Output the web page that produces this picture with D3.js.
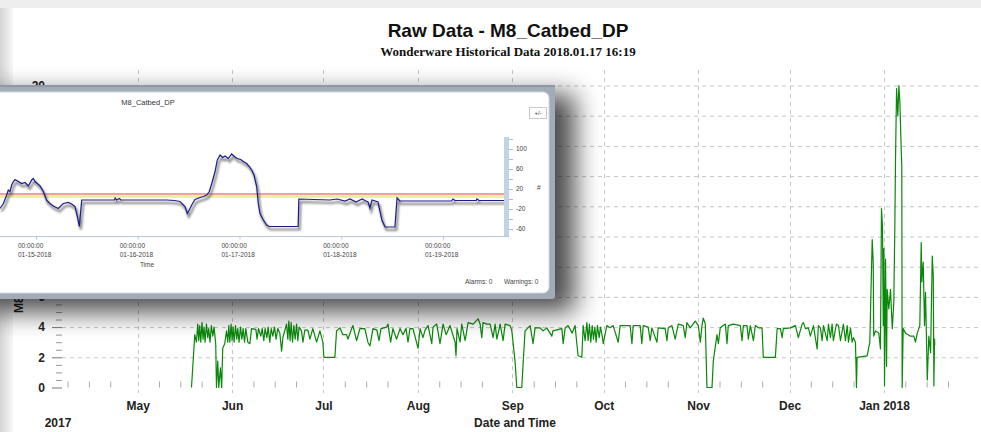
<!DOCTYPE html>
<html>
<head>
<meta charset="utf-8">
<script src="https://cdn.jsdelivr.net/npm/d3@7"></script>
<style>
body{margin:0;background:#fff;}
svg{display:block;font-family:Arial,"Liberation Sans",sans-serif;}
</style>
</head>
<body>
<div id="plot"></div>
<script>
// Raw Data - M8_Catbed_DP  (historian trend, with the live trend window on top)

var W = 981, H = 432;

var chartTitle = 'Raw Data - M8_Catbed_DP';
var chartSub = 'Wonderware Historical Data 2018.01.17 16:19';
var yLabel = 'M8_Catbed_DP';
var xLabel = 'Date and Time';
var yearLabel = '2017';

// raw samples [time, value]
var dpRaw = [
["2017-05-18 16",0],["2017-05-19 18",3.5],["2017-05-20 07",3.0],["2017-05-20 17",4.2],["2017-05-21 01",3.1],["2017-05-21 09",4.1],["2017-05-21 17",3.0],["2017-05-22 03",4.3],["2017-05-22 11",3.2],["2017-05-22 19",4.0],["2017-05-23 03",3.0],["2017-05-23 14",4.2],["2017-05-24 00",3.3],["2017-05-24 08",3.9],["2017-05-24 18",3.0],["2017-05-25 05",4.1],["2017-05-25 16",3.4],["2017-05-26 02",4.0],["2017-05-26 15",2.9],["2017-05-26 21",0],["2017-05-27 07",1.75],["2017-05-27 15",0],["2017-05-28 04",1.3],["2017-05-28 14",0],["2017-05-28 22",2.6],["2017-05-29 14",2.9],["2017-05-30 04",3.75],["2017-05-30 14",3.0],["2017-05-30 22",4.1],["2017-05-31 06",3.0],["2017-05-31 16",4.2],
["2017-06-01 00",3.1],["2017-06-01 08",4.0],["2017-06-01 16",3.0],["2017-06-02 03",4.1],["2017-06-02 13",3.2],["2017-06-02 21",3.9],["2017-06-03 07",3.0],["2017-06-03 18",4.0],["2017-06-04 05",3.2],["2017-06-04 15",3.9],["2017-06-05 02",3.0],["2017-06-05 12",3.9],["2017-06-06 04",3.0],["2017-06-06 20",2.9],["2017-06-07 09",3.9],["2017-06-08 19",3.85],["2017-06-09 05",3.2],["2017-06-09 16",3.9],["2017-06-10 10",3.4],["2017-06-10 21",3.9],["2017-06-11 10",3.1],["2017-06-11 20",3.9],["2017-06-12 10",3.3],["2017-06-12 20",4.0],["2017-06-13 09",3.0],["2017-06-13 20",3.9],["2017-06-14 09",3.4],["2017-06-14 22",4.0],["2017-06-15 11",3.2],["2017-06-16 00",3.9],["2017-06-16 16",3.6],["2017-06-17 06",2.4],["2017-06-17 16",3.3],["2017-06-18 08",3.8],["2017-06-18 21",4.2],["2017-06-19 07",3.2],["2017-06-19 15",4.4],["2017-06-20 01",3.1],["2017-06-20 09",4.3],["2017-06-20 20",3.0],["2017-06-21 06",4.1],["2017-06-21 17",3.2],["2017-06-22 04",4.2],["2017-06-22 14",3.1],["2017-06-23 00",4.0],["2017-06-23 19",3.75],["2017-06-24 06",3.0],["2017-06-24 21",3.8],["2017-06-25 21",3.8],["2017-06-26 13",3.2],["2017-06-27 12",3.9],["2017-06-28 18",3.0],["2017-06-29 20",3.75],["2017-06-30 19",3.0],
["2017-07-01 03",2.0],["2017-07-04 18",2.0],["2017-07-05 07",3.75],["2017-07-06 09",3.95],["2017-07-07 09",3.5],["2017-07-08 14",3.5],["2017-07-09 00",3.2],["2017-07-10 06",3.9],["2017-07-10 16",4.1],["2017-07-11 21",3.1],["2017-07-12 23",3.9],["2017-07-14 14",3.9],["2017-07-15 14",3.0],["2017-07-16 06",2.75],["2017-07-17 06",3.9],["2017-07-18 13",3.8],["2017-07-19 05",3.1],["2017-07-19 21",3.9],["2017-07-21 18",4.0],["2017-07-22 04",4.2],["2017-07-23 01",3.0],["2017-07-23 19",3.9],["2017-07-25 00",3.2],["2017-07-26 03",3.9],["2017-07-27 02",3.5],["2017-07-28 02",3.9],["2017-07-28 18",3.0],["2017-07-29 09",3.9],["2017-07-30 09",3.9],
["2017-08-01 01",2.6],["2017-08-01 17",3.9],["2017-08-02 16",3.3],["2017-08-03 08",3.8],["2017-08-04 08",4.1],["2017-08-05 13",2.9],["2017-08-05 23",4.0],["2017-08-07 04",4.2],["2017-08-08 06",2.9],["2017-08-09 06",4.2],["2017-08-10 06",3.5],["2017-08-11 13",4.1],["2017-08-13 05",3.0],["2017-08-13 12",2.1],["2017-08-13 20",3.9],["2017-08-14 20",3.0],["2017-08-15 09",4.2],["2017-08-16 12",3.1],["2017-08-17 11",4.3],["2017-08-19 03",4.2],["2017-08-20 18",4.55],["2017-08-21 10",4.2],["2017-08-21 23",3.3],["2017-08-22 09",4.3],["2017-08-23 15",4.2],["2017-08-24 17",4.2],["2017-08-25 16",3.3],["2017-08-26 08",4.2],["2017-08-26 22",3.2],["2017-08-28 00",4.2],["2017-08-28 23",3.1],["2017-08-29 15",4.2],["2017-08-31 06",4.1],["2017-08-31 20",3.75],
["2017-09-01 21",1.75],["2017-09-02 11",0],["2017-09-04 02",0],["2017-09-05 04",3.75],["2017-09-06 20",4.1],["2017-09-07 19",2.9],["2017-09-08 11",3.95],["2017-09-10 02",3.95],["2017-09-11 02",3.75],["2017-09-12 07",3.95],["2017-09-13 23",3.4],["2017-09-14 07",3.75],["2017-09-17 06",3.9],["2017-09-17 16",2.9],["2017-09-18 08",3.95],["2017-09-19 07",4.1],["2017-09-20 15",3.6],["2017-09-21 14",4.1],["2017-09-22 04",2.9],["2017-09-22 14",2.1],["2017-09-23 19",2.0],["2017-09-24 06",4.1],["2017-09-24 21",3.1],["2017-09-25 11",4.3],["2017-09-25 21",3.1],["2017-09-26 07",4.2],["2017-09-26 18",3.0],["2017-09-27 05",4.1],["2017-09-27 15",3.2],["2017-09-28 02",4.0],["2017-09-28 12",3.0],["2017-09-28 22",4.1],["2017-09-29 12",3.3],["2017-09-29 22",4.0],["2017-09-30 12",3.4],["2017-09-30 20",2.9],
["2017-10-02 00",4.1],["2017-10-03 02",3.95],["2017-10-04 02",4.1],["2017-10-05 18",3.0],["2017-10-06 09",4.1],["2017-10-09 16",4.1],["2017-10-10 06",2.9],["2017-10-10 16",4.1],["2017-10-12 23",4.1],["2017-10-13 12",2.9],["2017-10-13 23",4.1],["2017-10-15 14",4.0],["2017-10-16 06",3.1],["2017-10-16 19",3.95],["2017-10-18 11",3.0],["2017-10-18 21",3.95],["2017-10-21 04",3.9],["2017-10-21 18",3.1],["2017-10-22 04",3.95],["2017-10-23 09",4.1],["2017-10-24 11",3.2],["2017-10-25 11",4.2],["2017-10-27 02",4.1],["2017-10-27 18",3.3],["2017-10-28 07",4.3],["2017-10-29 10",3.95],["2017-10-31 01",4.4],
["2017-11-01 01",4.1],["2017-11-01 17",3.0],["2017-11-02 06",4.1],["2017-11-02 16",4.6],["2017-11-03 08",4.2],["2017-11-03 21",0],["2017-11-05 13",0],["2017-11-05 23",1.75],["2017-11-07 04",3.5],["2017-11-07 15",2.9],["2017-11-08 06",3.95],["2017-11-09 22",4.2],["2017-11-10 11",2.9],["2017-11-10 21",4.1],["2017-11-12 13",4.2],["2017-11-14 20",4.1],["2017-11-15 09",3.1],["2017-11-15 20",4.1],["2017-11-17 01",4.1],["2017-11-17 11",3.2],["2017-11-18 03",4.1],["2017-11-19 03",3.1],["2017-11-19 18",4.1],["2017-11-20 18",3.95],["2017-11-21 23",3.95],["2017-11-22 09",2.0],["2017-11-26 08",2.0],["2017-11-26 22",3.9],["2017-11-28 00",3.9],["2017-11-28 13",3.3],["2017-11-28 23",3.9],
["2017-12-01 06",3.95],["2017-12-02 22",4.1],["2017-12-03 21",3.3],["2017-12-05 03",4.2],["2017-12-05 13",4.3],["2017-12-06 05",3.9],["2017-12-07 04",3.95],["2017-12-07 20",3.4],["2017-12-08 20",4.1],["2017-12-10 01",2.55],["2017-12-10 11",4.1],["2017-12-11 03",3.95],["2017-12-11 16",3.1],["2017-12-12 03",4.1],["2017-12-13 08",3.1],["2017-12-13 18",4.2],["2017-12-14 10",3.3],["2017-12-14 23",4.2],["2017-12-15 09",3.1],["2017-12-16 09",4.2],["2017-12-17 01",4.1],["2017-12-17 17",3.1],["2017-12-18 16",4.2],["2017-12-19 08",3.1],["2017-12-19 22",4.1],["2017-12-20 08",3.0],["2017-12-21 00",3.95],["2017-12-21 13",3.0],["2017-12-21 23",3.3],["2017-12-22 15",3.0],["2017-12-22 23",0],["2017-12-23 04",2.0],["2017-12-26 11",2.1],["2017-12-27 08",3.0],["2017-12-28 03",9.8],["2017-12-28 11",8.3],["2017-12-28 15",3.4],["2017-12-29 05",3.75],["2017-12-30 07",3.6],["2017-12-30 20",2.55],["2017-12-31 04",11.85],["2017-12-31 12",10.7],["2017-12-31 18",4.1],["2017-12-31 23",9.2],
["2018-01-01 04",0.1],["2018-01-01 12",8.5],["2018-01-01 20",1.4],["2018-01-02 01",6.5],["2018-01-02 14",5.2],["2018-01-03 03",6.5],["2018-01-03 17",3.9],["2018-01-04 05",5.6],["2018-01-04 13",10.5],["2018-01-04 19",15.4],["2018-01-05 03",19.8],["2018-01-05 13",18.0],["2018-01-05 21",20.0],["2018-01-06 05",18.9],["2018-01-06 16",15.6],["2018-01-06 20",14.7],["2018-01-06 23",0],["2018-01-07 07",3.9],["2018-01-08 02",3.6],["2018-01-09 17",3.4],["2018-01-10 19",3.4],["2018-01-11 08",3.0],["2018-01-11 22",3.6],["2018-01-12 18",4.1],["2018-01-13 05",9.6],["2018-01-13 10",7.0],["2018-01-13 21",8.3],["2018-01-14 07",4.1],["2018-01-14 15",6.3],["2018-01-15 05",0.5],["2018-01-15 17",3.4],["2018-01-16 07",2.3],["2018-01-16 20",8.7],["2018-01-17 04",7.4],["2018-01-17 09",0.1],["2018-01-17 14",3.2],["2018-01-17 16",2.8]
];

var monthTicks = ['2017-05-01','2017-06-01','2017-07-01','2017-08-01','2017-09-01','2017-10-01','2017-11-01','2017-12-01','2018-01-01'];
var yTickValues = [0,2,4,6,8,10,12,14,16,18,20];

// live trend window (inset)
var insetTitle = 'M8_Catbed_DP';
var insetRaw = [
["2018-01-14 15:30",-19],["2018-01-14 16:18",-9],["2018-01-14 17:05",8],["2018-01-14 17:28",18],["2018-01-14 17:52",15],["2018-01-14 18:16",28],["2018-01-14 18:40",35],["2018-01-14 19:03",39],["2018-01-14 19:50",35],["2018-01-14 20:37",31],["2018-01-14 21:24",33],["2018-01-14 22:12",26],["2018-01-14 22:59",38],["2018-01-14 23:22",41],["2018-01-14 23:46",35],["2018-01-15 00:19",31],["2018-01-15 00:57",26],["2018-01-15 01:44",15],["2018-01-15 02:31",-3],["2018-01-15 03:18",-9],["2018-01-15 04:05",-14],["2018-01-15 05:16",-19],["2018-01-15 06:26",-9],["2018-01-15 07:37",-7],["2018-01-15 08:25",-10],["2018-01-15 09:12",-15],["2018-01-15 09:45",-35],["2018-01-15 10:13",-55],["2018-01-15 10:47",-2],
["2018-01-15 18:30",-2],["2018-01-15 18:40",2],["2018-01-15 19:00",-2],["2018-01-15 19:40",1],["2018-01-15 20:00",-2],["2018-01-16 06:50",-2],["2018-01-16 08:40",-3],["2018-01-16 09:58",-5],["2018-01-16 11:08",-15],["2018-01-16 11:41",-29],["2018-01-16 12:09",-22],["2018-01-16 12:43",-12],["2018-01-16 13:30",-1],["2018-01-16 14:41",3],["2018-01-16 15:28",5],["2018-01-16 16:16",8],["2018-01-16 16:52",15],["2018-01-16 17:27",31],["2018-01-16 18:14",55],["2018-01-16 18:46",78],["2018-01-16 19:24",88],["2018-01-16 20:02",83],["2018-01-16 20:35",86],["2018-01-16 21:22",81],["2018-01-16 22:09",90],["2018-01-16 22:47",85],["2018-01-16 23:28",81],["2018-01-17 00:17",79],["2018-01-17 00:54",75],["2018-01-17 01:42",71],["2018-01-17 02:18",65],["2018-01-17 02:52",58],["2018-01-17 03:25",48],["2018-01-17 04:03",25],["2018-01-17 04:26",-9],["2018-01-17 04:50",-29],["2018-01-17 05:37",-42],["2018-01-17 06:24",-52],["2018-01-17 07:02",-55],["2018-01-17 13:50",-55],["2018-01-17 14:00",0],
["2018-01-17 21:20",-2],["2018-01-17 23:00",0],["2018-01-18 00:55",-4],["2018-01-18 02:05",0],["2018-01-18 03:30",-6],["2018-01-18 04:55",0],["2018-01-18 05:50",-4],["2018-01-18 06:20",-6],["2018-01-18 06:45",-18],["2018-01-18 07:15",-2],["2018-01-18 08:40",-6],["2018-01-18 09:35",-42],["2018-01-18 10:20",-56],["2018-01-18 12:40",-56],["2018-01-18 13:10",2],["2018-01-18 13:50",-4],["2018-01-19 02:00",-4],["2018-01-19 02:20",0],["2018-01-19 02:50",-3],["2018-01-19 07:50",-3],["2018-01-19 08:00",0],["2018-01-19 08:30",-3],["2018-01-19 14:30",-3]
];
var insetDays = ['2018-01-15','2018-01-16','2018-01-17','2018-01-18','2018-01-19'];
var insetYTicks = [100,60,20,-20,-60];
var alarmLimit = 10, warnLimit = 5;

var parseH = d3.timeParse('%Y-%m-%d %H'),
	parseM = d3.timeParse('%Y-%m-%d %H:%M'),
	parseD = d3.timeParse('%Y-%m-%d');

var data = dpRaw.map(function(d){ return {t:parseH(d[0]), v:d[1]}; });
var inset = insetRaw.map(function(d){ return {t:parseM(d[0]), v:d[1]}; });

var svg = d3.select('#plot').append('svg')
	.attr('width',W)
	.attr('height',H);

var defs = svg.append('defs');
var lg = defs.append('linearGradient').attr('id','leftEdge');
lg.append('stop').attr('offset','0%').attr('stop-color','#d4d4d4');
lg.append('stop').attr('offset','100%').attr('stop-color','#f7f7f7');

var f1 = defs.append('filter').attr('id','winShadow')
	.attr('x','-30%').attr('y','-50%').attr('width','160%').attr('height','200%');
f1.append('feGaussianBlur').attr('stdDeviation',13);

var f2 = defs.append('filter').attr('id','lineShadow')
	.attr('x','-10%').attr('y','-20%').attr('width','120%').attr('height','140%');
f2.append('feGaussianBlur').attr('stdDeviation',1.3);

defs.append('clipPath').attr('id','insetClip')
	.append('rect').attr('x',0).attr('y',137).attr('width',504).attr('height',100);

// page background
svg.append('rect').attr('width',W).attr('height',H).attr('fill','#fff');
svg.append('rect').attr('width',W).attr('height',8).attr('fill','#eeeeee');
svg.append('rect').attr('x',0).attr('y',8).attr('width',13).attr('height',H-8).attr('fill','url(#leftEdge)');

// titles
svg.append('text').attr('x',508).attr('y',37)
	.attr('text-anchor','middle')
	.style('font-size','19px').style('font-weight','bold').attr('fill','#111')
	.text(chartTitle);
svg.append('text').attr('x',508).attr('y',56)
	.attr('text-anchor','middle')
	.style('font-family','"Liberation Serif","Times New Roman",serif')
	.style('font-size','13px').style('font-weight','bold').attr('fill','#111')
	.text(chartSub);

// scales
var x = d3.scaleTime().domain([new Date(2017,3,6), new Date(2018,1,2)]).range([61.5,981.5]);
var y = d3.scaleLinear().domain([0,21]).range([387.5,70.4]);

// grid
var grid = svg.append('g').attr('class','grid');
grid.selectAll('.hg').data(yTickValues.filter(function(v){return v>0;}))
	.enter().append('line')
	.attr('x1',62).attr('x2',W)
	.attr('y1',function(d){return y(d)+.5;}).attr('y2',function(d){return y(d)+.5;})
	.attr('stroke','#c6c6c6').attr('stroke-dasharray','4,4');
grid.selectAll('.vg').data(monthTicks.map(parseD))
	.enter().append('line')
	.attr('x1',function(d){return Math.round(x(d))+.5;}).attr('x2',function(d){return Math.round(x(d))+.5;})
	.attr('y1',70).attr('y2',393)
	.attr('stroke','#c6c6c6').attr('stroke-dasharray','4,4');

// y axis, major + minor
var yAxis = svg.append('g').attr('transform','translate(62,0)')
	.call(d3.axisLeft(y).tickValues(yTickValues).tickSize(10).tickPadding(7));
yAxis.select('.domain').remove();
yAxis.selectAll('line').attr('stroke','#777');
yAxis.selectAll('text').style('font-size','12px').style('font-weight','bold').attr('fill','#222');

var yMinor = svg.append('g').attr('transform','translate(62,0)')
	.call(d3.axisLeft(y).tickValues(d3.range(0.5,20.5,0.5).filter(function(v){return v%2!=0;})).tickSize(6).tickFormat(''));
yMinor.select('.domain').remove();
yMinor.selectAll('line').attr('stroke','#999');

// x axis, months + minor ticks on day 8/15/22
var xAxis = svg.append('g').attr('transform','translate(0,387.5)')
	.call(d3.axisBottom(x).tickValues(monthTicks.map(parseD)).tickSize(0).tickPadding(14)
		.tickFormat(function(d){ return d.getMonth()==0 ? d3.timeFormat('%b %Y')(d) : d3.timeFormat('%b')(d); }));
xAxis.select('.domain').remove();
xAxis.selectAll('text').style('font-size','12px').style('font-weight','bold').attr('fill','#222');

var minorDays = [];
d3.timeMonth.range(new Date(2017,3,1), new Date(2018,1,1)).forEach(function(m){
	[8,15,22].forEach(function(dd){ minorDays.push(new Date(m.getFullYear(), m.getMonth(), dd)); });
});
var xMinor = svg.append('g').attr('transform','translate(0,387.5)')
	.call(d3.axisBottom(x).tickValues(minorDays).tickSize(-6).tickFormat(''));
xMinor.select('.domain').remove();
xMinor.selectAll('line').attr('stroke','#aaa');

svg.append('text').attr('x',58).attr('y',427).attr('text-anchor','middle')
	.style('font-size','12px').style('font-weight','bold').attr('fill','#222').text(yearLabel);
svg.append('text').attr('x',515).attr('y',427).attr('text-anchor','middle')
	.style('font-size','12px').style('font-weight','bold').attr('fill','#222').text(xLabel);
svg.append('text').attr('transform','translate(23,313) rotate(-90)')
	.style('font-size','12px').style('font-weight','bold').attr('fill','#222').text(yLabel);

// green raw data line
var line = d3.line().x(function(d){return x(d.t);}).y(function(d){return y(d.v);});
svg.append('path').datum(data)
	.attr('d',line)
	.attr('fill','none')
	.attr('stroke','#0a880a')
	.attr('stroke-width',1.2)
	.attr('stroke-linejoin','round');

///////////////////////////////////////////////////////////
// trend window on top
var win = svg.append('g').attr('class','window');

win.append('rect').attr('x',-15).attr('y',94).attr('width',590).attr('height',218)
	.attr('fill','#000').attr('opacity',.7).attr('filter','url(#winShadow)');
win.append('rect').attr('x',-10).attr('y',85).attr('width',565).attr('height',214)
	.attr('rx',3).attr('fill','#a2abb8');
win.append('rect').attr('x',-10).attr('y',85).attr('width',565).attr('height',2)
	.attr('fill','#8e98a8');
win.append('rect').attr('x',-6).attr('y',92).attr('width',555).attr('height',201)
	.attr('rx',6).attr('fill','#fff').attr('stroke','#d5d8dd');

win.append('text').attr('x',148).attr('y',104.5).attr('text-anchor','middle')
	.style('font-size','7.5px').attr('fill','#333').text(insetTitle);

win.append('rect').attr('x',529.5).attr('y',107.5).attr('width',17).attr('height',11)
	.attr('fill','#fff').attr('stroke','#c8c8c8');
win.append('text').attr('x',538).attr('y',115).attr('text-anchor','middle')
	.style('font-size','6px').attr('fill','#333').text('+/-');

var ix = d3.scaleTime().domain([parseD(insetDays[0]), parseD(insetDays[4])]).range([36,443]);
var iy = d3.scaleLinear().domain([-75,125]).range([236.5,136.5]);

// limit lines
win.append('line').attr('x1',0).attr('x2',504)
	.attr('y1',iy(warnLimit)).attr('y2',iy(warnLimit))
	.attr('stroke','#ecec9c').attr('stroke-width',2.5);
win.append('line').attr('x1',0).attr('x2',504)
	.attr('y1',iy(alarmLimit)).attr('y2',iy(alarmLimit))
	.attr('stroke','#f07c84').attr('stroke-width',1.3);

var iline = d3.line().x(function(d){return ix(d.t);}).y(function(d){return iy(d.v);});
var ig = win.append('g').attr('clip-path','url(#insetClip)');
ig.append('path').datum(inset).attr('d',iline)
	.attr('transform','translate(1.5,3)')
	.attr('fill','none').attr('stroke','#555').attr('stroke-width',2.2).attr('opacity',.7)
	.attr('filter','url(#lineShadow)');
ig.append('path').datum(inset).attr('d',iline)
	.attr('fill','none').attr('stroke','#1c1c8a').attr('stroke-width',1.2);

// right value axis
win.append('rect').attr('x',504).attr('y',137).attr('width',5).attr('height',100).attr('fill','#c3d3e6');
var iyAxis = win.append('g').attr('transform','translate(509,0)')
	.call(d3.axisRight(iy).tickValues(d3.range(-60,121,20)).tickSize(4).tickFormat(''));
iyAxis.select('.domain').remove();
iyAxis.selectAll('line').attr('stroke','#a9bdd6');
win.selectAll('.iyl').data(insetYTicks).enter().append('text')
	.attr('x',516).attr('y',function(d){return iy(d)+2.3;})
	.style('font-size','6.5px').attr('fill','#444')
	.text(function(d){return d;});
win.append('text').attr('x',537).attr('y',190).style('font-size','6.5px').attr('fill','#444').text('#');

// time axis
win.append('line').attr('x1',0).attr('x2',509).attr('y1',236.5).attr('y2',236.5).attr('stroke','#b7c8dd');
var ixAxis = win.append('g').attr('transform','translate(0,236.5)')
	.call(d3.axisBottom(ix).tickValues(insetDays.map(parseD)).tickSize(3).tickFormat(''));
ixAxis.select('.domain').remove();
ixAxis.selectAll('line').attr('stroke','#b7c8dd');

var lbl = win.selectAll('.ixl').data(insetDays.map(parseD)).enter().append('text')
	.style('font-size','6.5px').attr('fill','#444');
lbl.append('tspan').attr('x',function(d){return ix(d)-18;}).attr('y',248).text('00:00:00');
lbl.append('tspan').attr('x',function(d){return ix(d)-18;}).attr('y',257).text(d3.timeFormat('%m-%d-%Y'));

win.append('text').attr('x',147).attr('y',266.5).attr('text-anchor','middle')
	.style('font-size','6.5px').attr('fill','#444').text('Time');
win.append('text').attr('x',465).attr('y',283.5)
	.style('font-size','6.5px').attr('fill','#444').text('Alarms: 0');
win.append('text').attr('x',504).attr('y',283.5)
	.style('font-size','6.5px').attr('fill','#444').text('Warnings: 0');
</script>
</body>
</html>
